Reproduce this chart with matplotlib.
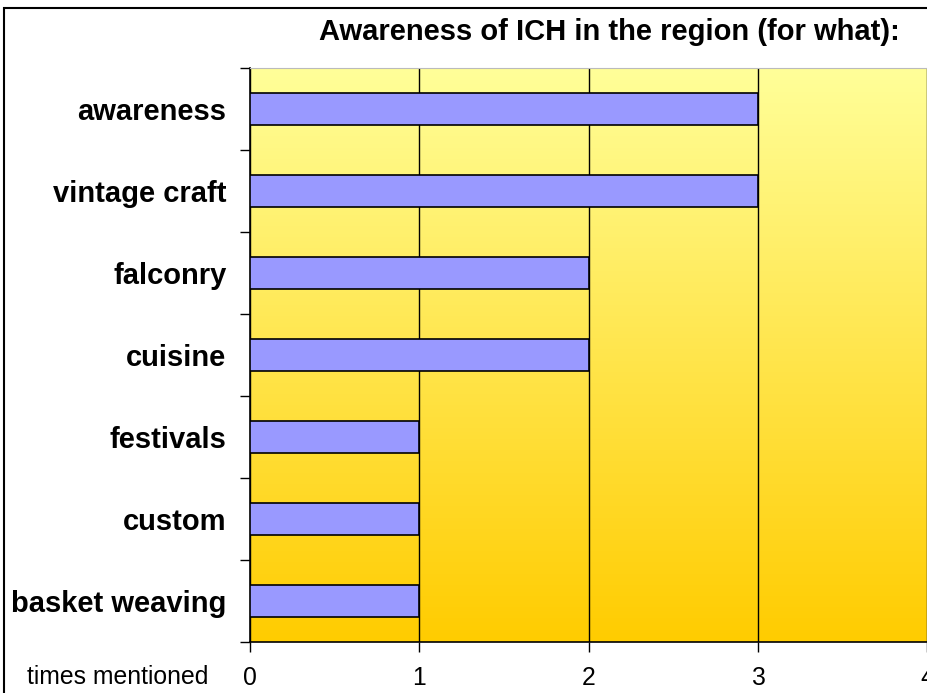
import numpy as np
import matplotlib
matplotlib.use("Agg")
import matplotlib.pyplot as plt
from matplotlib.colors import LinearSegmentedColormap
from matplotlib.patches import Rectangle

plt.rcParams['font.family'] = ['Liberation Sans', 'DejaVu Sans']

categories = ["awareness", "vintage craft", "falconry", "cuisine",
              "festivals", "custom", "basket weaving"]
counts = [3, 3, 2, 2, 1, 1, 1]
xticks = [0, 1, 2, 3, 4]

fig = plt.figure(figsize=(9.28, 6.93), dpi=100)
ax = fig.add_axes([250/928, 51/693, 677/928, 574/693])

# gradient background of the plot area
cmap = LinearSegmentedColormap.from_list("bg", ["#FFFF99", "#FFCC00"])
grad = np.linspace(0, 1, 256).reshape(-1, 1)
ax.imshow(grad, cmap=cmap, aspect="auto", extent=[0, 4, 6.5, -0.5],
          zorder=0, interpolation="bicubic")

y = np.arange(len(categories))
ax.barh(y, counts, height=0.39, color="#9999FF", edgecolor="black",
        linewidth=1.2, zorder=3)

ax.set_xlim(0, 4)
ax.set_ylim(6.5, -0.5)
ax.set_xticks(xticks)
ax.set_xticklabels([str(v) for v in xticks], fontsize=17.8)
ax.xaxis.grid(True, color="black", linewidth=1.0, zorder=1)
ax.set_axisbelow(True)

ax.set_yticks(np.arange(-0.5, 7, 1))
ax.set_yticklabels([])
ax.set_yticks(y, minor=True)
ax.set_yticklabels(categories, minor=True, fontsize=21, fontweight="bold")
ax.tick_params(axis="y", which="minor", length=0, pad=17)
ax.tick_params(axis="y", which="major", length=7.2, width=1, direction="out")
ax.tick_params(axis="x", length=7.2, width=1, direction="out", pad=10)

for s in ["left", "bottom"]:
    ax.spines[s].set_linewidth(1.2)
ax.spines["top"].set_color("#BBBBBB")
ax.spines["right"].set_color("#BBBBBB")

fig.text(609/928, 1 - 32/693, "Awareness of ICH in the region (for what):",
         ha="center", va="center", fontsize=21, fontweight="bold")
fig.text(27/928, 1 - 677/693, "times mentioned", ha="left", va="center",
         fontsize=17.8)

# outer chart frame
fig.patches.append(Rectangle((4/928, -0.05), 1.05, 1.05 - 8/693 + 0.0,
                             transform=fig.transFigure, fill=False,
                             edgecolor="black", linewidth=1.5))

fig.savefig("out.png", dpi=100)
